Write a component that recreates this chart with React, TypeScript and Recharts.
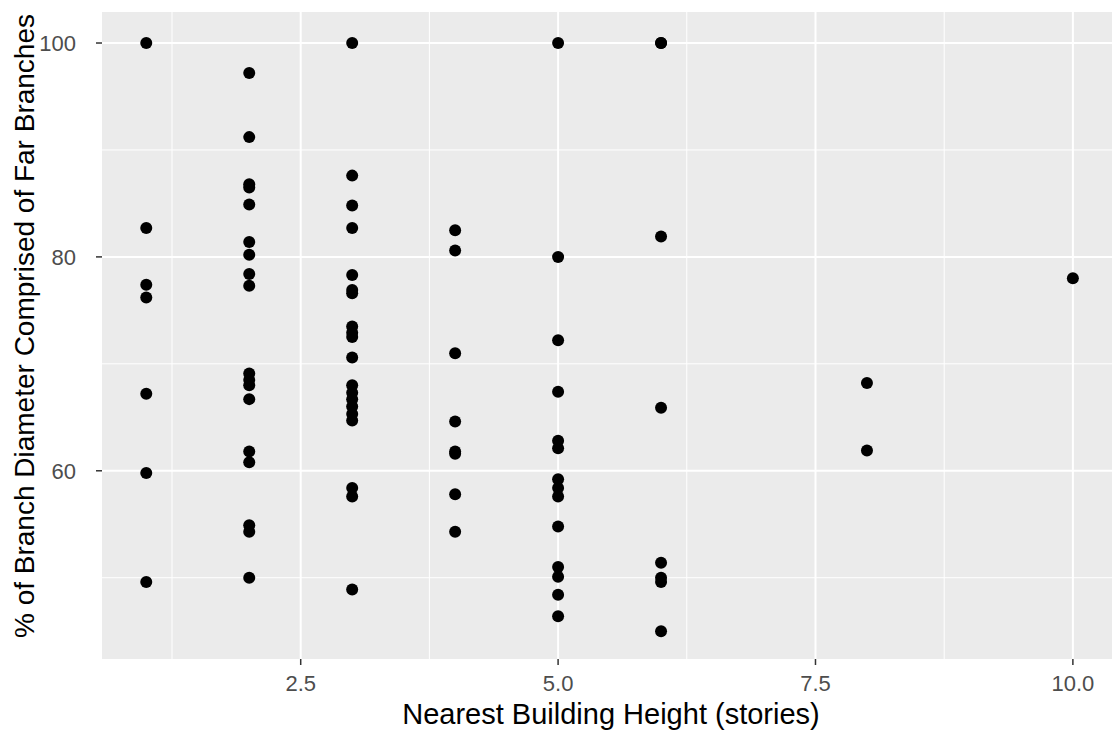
import { ScatterChart, Scatter, XAxis, YAxis, CartesianGrid, ReferenceLine } from 'recharts'

// % of branch diameter made of far branches, grouped by nearest building height
const storiesOne = [100, 82.7, 77.4, 76.2, 67.2, 59.8, 49.6]
const storiesTwo = [97.2, 91.2, 86.8, 86.5, 84.9, 81.4, 80.2, 78.4, 77.3, 69.1, 68.5, 68.0, 66.7, 61.8, 60.8, 54.9, 54.3, 50.0]
const storiesThree = [100, 87.6, 84.8, 82.7, 78.3, 76.9, 76.6, 73.5, 72.9, 72.5, 70.6, 68.0, 67.3, 66.7, 66.0, 65.3, 64.7, 58.4, 57.6, 48.9]
const storiesFour = [82.5, 80.6, 71.0, 64.6, 61.8, 61.6, 57.8, 54.3]
const storiesFive = [100, 80.0, 72.2, 67.4, 62.8, 62.1, 59.2, 58.4, 57.6, 54.8, 51.0, 50.1, 48.4, 46.4]
const storiesSix = [100, 100, 81.9, 65.9, 51.4, 50.0, 49.6, 45.0]
const storiesEight = [68.2, 61.9]
const storiesTen = [78.0]

const groups: [number, number[]][] = [
  [1, storiesOne],
  [2, storiesTwo],
  [3, storiesThree],
  [4, storiesFour],
  [5, storiesFive],
  [6, storiesSix],
  [8, storiesEight],
  [10, storiesTen],
]

const xTicks = [2.5, 5, 7.5, 10]
const xMinor = [1.25, 3.75, 6.25, 8.75]
const yTicks = [60, 80, 100]
const yMinor = [50, 70, 90]

const points = groups.flatMap(([stories, vals]) => vals.map((pct) => ({ stories, pct })))

const font = '"Liberation Sans", Arial, sans-serif'

// eslint-disable-next-line @typescript-eslint/no-explicit-any
function Dot({ cx, cy }: any) {
  return <circle cx={cx} cy={cy} r={6} fill="#000" />
}

// eslint-disable-next-line @typescript-eslint/no-explicit-any
function XTick({ x, y, payload }: any) {
  return (
    <text x={x} y={y} dy={16} textAnchor="middle" fill="#4d4d4d" fontSize={22} fontFamily={font}>
      {payload.value.toFixed(1)}
    </text>
  )
}

// eslint-disable-next-line @typescript-eslint/no-explicit-any
function YTick({ x, y, payload }: any) {
  return (
    <text x={x} y={y} dx={-16} dy={8} textAnchor="end" fill="#4d4d4d" fontSize={22} fontFamily={font}>
      {payload.value}
    </text>
  )
}

export default function App() {
  return (
    <div style={{ position: 'absolute', left: 0, top: 0 }}>
      <ScatterChart width={1112} height={730} margin={{ top: 12, right: 0, bottom: 0, left: 0 }}>
        <CartesianGrid fill="#ebebeb" horizontal={false} vertical={false} stroke="none" />
        {xMinor.map((v) => (
          <ReferenceLine key={'xm' + v} x={v} stroke="#fff" strokeWidth={1} />
        ))}
        {yMinor.map((v) => (
          <ReferenceLine key={'ym' + v} y={v} stroke="#fff" strokeWidth={1} />
        ))}
        {xTicks.map((v) => (
          <ReferenceLine key={'x' + v} x={v} stroke="#fff" strokeWidth={2} />
        ))}
        {yTicks.map((v) => (
          <ReferenceLine key={'y' + v} y={v} stroke="#fff" strokeWidth={2} />
        ))}
        <XAxis
          type="number"
          dataKey="stories"
          domain={[0.57, 10.38]}
          ticks={xTicks}
          allowDataOverflow
          axisLine={false}
          tickLine={{ stroke: '#333', strokeWidth: 1.5 }}
          tickSize={6}
          tickMargin={10}
          tick={<XTick />}
          height={71}
          label={{
            content: () => (
              <text x={611} y={724} textAnchor="middle" fill="#000" fontSize={29} fontFamily={font}>
                Nearest Building Height (stories)
              </text>
            ),
          }}
        />
        <YAxis
          type="number"
          dataKey="pct"
          domain={[42.4, 102.9]}
          ticks={yTicks}
          allowDataOverflow
          axisLine={false}
          tickLine={{ stroke: '#333', strokeWidth: 1.5 }}
          tickSize={6}
          tickMargin={4}
          tick={<YTick />}
          width={102}
          label={{
            content: () => (
              <text
                x={34}
                y={326}
                transform="rotate(-90 34 326)"
                textAnchor="middle"
                fill="#000"
                fontSize={28}
                fontFamily={font}
              >
                % of Branch Diameter Comprised of Far Branches
              </text>
            ),
          }}
        />
        <Scatter data={points} shape={<Dot />} isAnimationActive={false} />
      </ScatterChart>
    </div>
  )
}
